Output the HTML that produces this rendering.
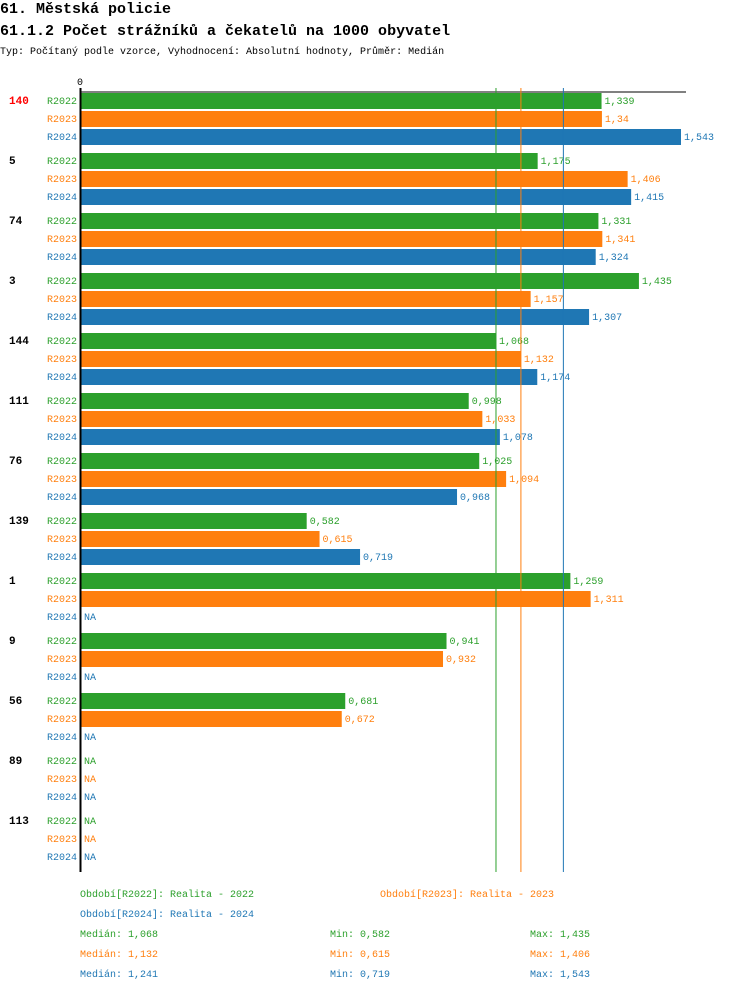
<!DOCTYPE html>
<html><head><meta charset="utf-8"><style>
body{margin:0;background:#fff;width:750px;height:992px;overflow:hidden;font-family:"Liberation Mono",monospace}
svg text{font-family:"Liberation Mono",monospace}
</style></head><body>
<svg id="c" width="750" height="992">
<text x="0" y="13" font-size="15" font-weight="bold">61. Městská policie</text>
<text x="0" y="35" font-size="15" font-weight="bold">61.1.2 Počet strážníků a čekatelů na 1000 obyvatel</text>
<text x="0" y="54" font-size="10">Typ: Počítaný podle vzorce, Vyhodnocení: Absolutní hodnoty, Průměr: Medián</text>
<text x="77" y="85" font-size="10">0</text>
<line x1="80" y1="92" x2="686" y2="92" stroke="#000"/>
<g id="bars"></g>
<line x1="80.5" y1="88" x2="80.5" y2="872" stroke="#000" stroke-width="2"/>
<text x="80" y="897" font-size="10" fill="#2ca02c">Období[R2022]: Realita - 2022</text>
<text x="380" y="897" font-size="10" fill="#ff7f0e">Období[R2023]: Realita - 2023</text>
<text x="80" y="917" font-size="10" fill="#1f77b4">Období[R2024]: Realita - 2024</text>
<g id="stats"></g>
</svg>
<script>
const groups=["140","5","74","3","144","111","76","139","1","9","56","89","113"];
const series=["R2022","R2023","R2024"];
const v2022=[1.339,1.175,1.331,1.435,1.068,0.998,1.025,0.582,1.259,0.941,0.681,null,null];
const v2023=[1.34,1.406,1.341,1.157,1.132,1.033,1.094,0.615,1.311,0.932,0.672,null,null];
const v2024=[1.543,1.415,1.324,1.307,1.174,1.078,0.968,0.719,null,null,null,null,null];
const medians=[1.068,1.132,1.241];
const mins=[0.582,0.615,0.719];
const maxs=[1.435,1.406,1.543];
const colors=["#2ca02c","#ff7f0e","#1f77b4"];
const vals=[v2022,v2023,v2024];
const NS="http://www.w3.org/2000/svg";
const x=v=>80+v*389.5;
const fmt=v=>String(v).replace('.',',');
const g=document.getElementById('bars');
function mk(t,a,p){const e=document.createElementNS(NS,t);for(const k in a)e.setAttribute(k,a[k]);(p||g).appendChild(e);return e;}
groups.forEach((name,i)=>{
  const t=mk('text',{x:9,y:92+i*60+12,'font-size':11,'font-weight':'bold',fill:i==0?'#f00':'#000'});
  
  
  t.textContent=name;
  series.forEach((s,r)=>{
    const top=92+i*60+r*18, v=vals[r][i];
    const l=mk('text',{x:47,y:top+12,'font-size':10,fill:colors[r]});
    
    
    l.textContent=s;
    let end;
    if(v!==null){
      const b=mk('rect',{x:81,y:top+1,width:x(v)-81,height:16,fill:colors[r]});
      
      
      end=x(v)+3;
    } else end=84;
    const vt=mk('text',{x:end,y:top+12,'font-size':10,fill:colors[r]});
    
    
    vt.textContent=v===null?'NA':fmt(v);
  });
});
medians.forEach((m,r)=>{
  const ln=mk('line',{x1:x(m),x2:x(m),y1:88,y2:872,stroke:colors[r],'stroke-width':1});
  
  
});
const st=document.getElementById('stats');
series.forEach((s,r)=>{
  const y=937+r*20;
  [[80,'Medián: '+fmt(medians[r])],[330,'Min: '+fmt(mins[r])],[530,'Max: '+fmt(maxs[r])]].forEach(([xx,txt])=>{
    const t=mk('text',{x:xx,y:y,'font-size':10,fill:colors[r]},st);
    
    
    t.textContent=txt;
  });
});
</script>
</body></html>
